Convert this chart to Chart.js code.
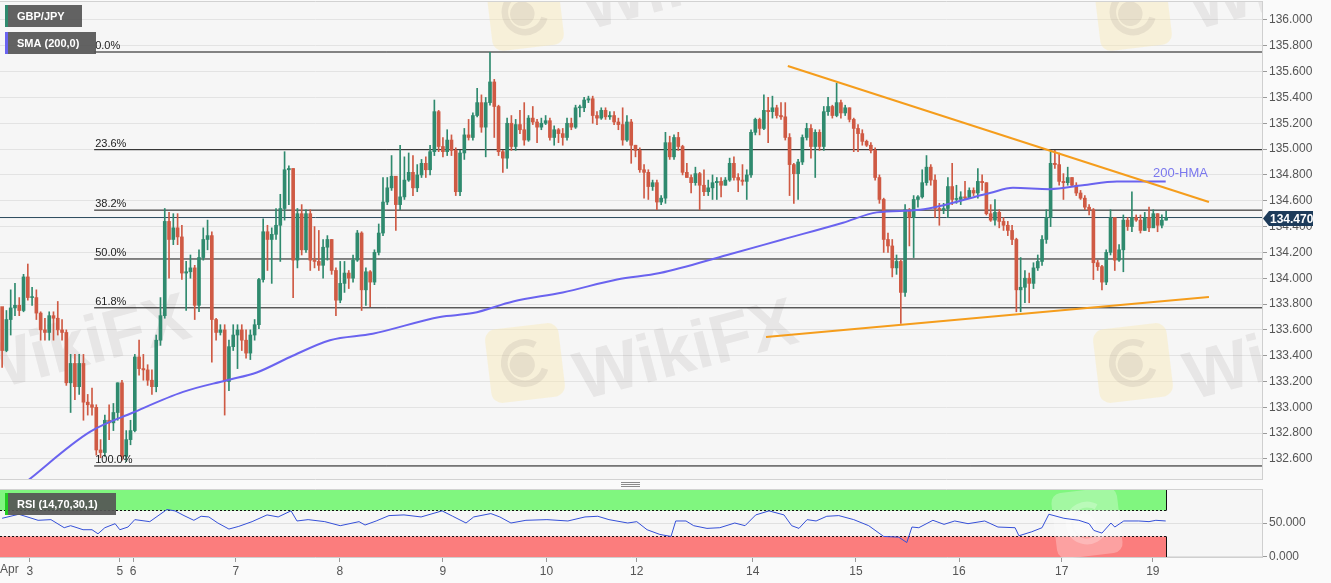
<!DOCTYPE html>
<html>
<head>
<meta charset="utf-8">
<script src="https://cdn.jsdelivr.net/npm/chart.js@4.4.0/dist/chart.umd.min.js"></script>
<style>
  html, body { margin: 0; padding: 0; background: #fafafa; }
  #wrap { position: relative; width: 1331px; height: 583px; overflow: hidden; }
  #priceChart { position: absolute; left: 0; top: 0; }
  #rsiChart { position: absolute; left: 0; top: 481px; }
</style>
</head>
<body>
<div id="wrap">
  <canvas id="priceChart" width="1331" height="481"></canvas>
  <canvas id="rsiChart" width="1331" height="102"></canvas>
</div>
<script>
// hourly GBP/JPY candles, open = previous close
const firstOpen = 133.78;
const closes = [
  133.44,133.68,133.77,133.79,133.75,134.01,133.85,133.85,133.73,133.60,
  133.58,133.71,133.69,133.60,133.58,133.19,133.34,133.16,133.34,133.04,
  133.02,133.00,132.67,132.65,132.90,132.88,132.96,133.19,132.62,132.75,
  132.82,133.39,133.30,133.29,133.21,133.16,133.52,133.71,134.44,134.30,
  134.39,134.32,134.04,134.05,134.08,133.79,134.16,134.30,134.33,133.68,
  133.58,133.60,133.20,133.47,133.56,133.60,133.52,133.42,133.56,133.64,
  133.99,134.36,134.30,134.34,134.41,134.54,134.84,134.85,134.14,134.50,
  134.22,134.50,134.14,134.13,134.10,134.24,134.30,134.06,133.83,133.96,
  134.04,134.00,134.14,134.35,133.91,134.05,133.97,134.20,134.35,134.59,
  134.70,134.79,134.57,134.63,134.76,134.82,134.70,134.80,134.89,134.84,
  134.98,135.29,135.02,134.98,135.07,134.99,134.67,134.97,135.11,135.09,
  135.26,135.36,135.17,135.36,135.52,135.33,134.98,134.93,135.20,135.02,
  135.19,135.15,135.07,135.24,135.21,135.17,135.20,135.22,135.09,135.15,
  135.12,135.09,135.20,135.17,135.32,135.32,135.38,135.39,135.26,135.24,
  135.30,135.25,135.26,135.21,135.19,135.07,135.21,135.03,134.99,134.84,
  134.82,134.71,134.74,134.59,134.62,135.05,134.94,135.09,135.02,134.82,
  134.78,134.74,134.81,134.72,134.67,134.70,
  134.74,134.75,134.72,134.76,134.89,134.78,134.76,134.75,134.80,135.13,135.23,135.16,135.30,135.29,
  135.32,
  135.26,135.25,135.09,134.88,134.81,134.90,135.09,135.16,135.02,135.13,
  135.02,135.29,135.33,135.26,135.36,135.28,135.32,135.23,135.16,135.12,
  135.06,135.03,134.99,134.78,134.61,134.30,134.25,134.08,134.13,133.89,
  134.53,134.47,134.61,134.63,134.74,134.86,134.76,134.54,134.53,134.54,
  134.71,134.61,134.61,134.63,134.62,134.68,134.66,134.75,134.74,134.50,
  134.45,134.51,134.44,134.41,134.37,134.30,133.91,133.93,134.00,133.96,
  134.08,134.13,134.30,134.47,134.89,134.88,134.75,134.74,134.78,134.72,
  134.66,134.62,134.55,134.53,134.12,134.09,133.97,134.20,134.47,134.14,
  134.22,134.45,134.40,134.47,134.45,134.37,134.47,134.39,134.50,134.41,
  134.45,134.47
];
const highs = [
  133.68,133.75,133.91,133.96,133.85,134.03,134.11,133.93,133.91,133.74,
  133.69,133.74,133.74,133.82,133.68,133.60,133.41,133.41,133.41,133.41,
  133.10,133.15,133.02,132.75,132.94,133.02,133.03,133.19,133.21,132.82,
  132.90,133.41,133.52,133.41,133.33,133.29,133.56,133.85,134.54,134.51,
  134.50,134.50,134.41,134.13,134.18,134.10,134.22,134.39,134.45,134.36,
  133.69,133.64,133.64,133.52,133.64,133.64,133.64,133.60,133.60,133.68,
  134.00,134.46,134.41,134.39,134.54,134.65,134.98,134.87,134.85,134.54,
  134.57,134.53,134.53,134.40,134.37,134.30,134.33,134.30,134.08,134.13,
  134.13,134.06,134.18,134.37,134.36,134.08,134.06,134.22,134.42,134.78,
  134.78,134.95,134.79,135.03,134.94,134.97,134.95,134.88,134.92,134.94,
  135.03,135.38,135.30,135.09,135.15,135.11,135.01,134.99,135.16,135.23,
  135.28,135.47,135.42,135.40,135.75,135.54,135.34,134.99,135.24,135.26,
  135.23,135.30,135.36,135.26,135.33,135.23,135.24,135.26,135.24,135.18,
  135.16,135.16,135.24,135.24,135.34,135.34,135.40,135.41,135.41,135.29,
  135.32,135.32,135.29,135.29,135.24,135.32,135.26,135.23,135.03,135.01,
  134.88,134.84,134.76,134.76,134.64,135.13,135.10,135.11,135.13,135.03,
  134.89,134.80,134.86,134.82,134.84,134.76,
  134.80,134.78,134.78,134.78,134.93,134.94,134.81,134.88,134.84,135.15,135.24,135.24,135.42,135.40,
  135.41,
  135.34,135.36,135.36,135.12,134.89,134.92,135.11,135.20,135.19,135.15,
  135.15,135.33,135.40,135.34,135.51,135.38,135.34,135.32,135.24,135.19,
  135.15,135.07,135.05,135.01,134.80,134.62,134.35,134.30,134.18,134.14,
  134.57,134.54,134.64,134.64,134.84,134.95,134.88,134.80,134.58,134.58,
  134.78,134.89,134.72,134.67,134.75,134.70,134.70,134.85,134.80,134.74,
  134.57,134.61,134.53,134.47,134.44,134.41,134.31,134.16,134.06,134.04,
  134.12,134.18,134.33,134.53,134.98,134.99,134.97,134.81,134.86,134.78,
  134.74,134.68,134.64,134.57,134.54,134.14,134.10,134.22,134.53,134.41,
  134.26,134.49,134.47,134.67,134.49,134.49,134.51,134.55,134.53,134.50,
  134.49,134.52
];
const lows = [
  133.31,133.43,133.56,133.71,133.71,133.74,133.83,133.79,133.68,133.52,
  133.52,133.52,133.52,133.56,133.52,133.17,132.96,133.06,133.10,132.90,
  132.94,132.94,132.63,132.61,132.62,132.75,132.82,132.90,132.59,132.58,
  132.71,132.81,133.25,133.21,133.17,133.10,133.12,133.48,133.69,134.00,
  134.26,134.26,133.99,133.75,134.00,133.68,133.74,134.14,134.22,133.35,
  133.52,133.56,132.94,133.13,133.44,133.30,133.44,133.38,133.37,133.52,
  133.61,133.97,134.06,133.96,134.30,134.13,134.45,134.57,133.85,134.08,
  134.18,134.20,134.06,134.08,134.06,134.00,134.14,134.03,133.71,133.81,
  133.89,133.92,133.97,134.13,133.75,133.79,133.78,133.95,134.18,134.33,
  134.57,134.68,134.37,134.53,134.61,134.75,134.64,134.67,134.78,134.78,
  134.80,134.95,134.98,134.94,134.95,134.95,134.64,134.64,134.92,135.07,
  135.07,135.25,135.13,134.94,135.34,135.09,134.95,134.82,134.85,134.99,
  134.99,135.12,135.03,135.06,135.19,135.05,135.15,135.19,135.07,135.03,
  135.05,135.03,135.07,135.15,135.16,135.25,135.29,135.36,135.20,135.19,
  135.23,135.23,135.23,135.19,135.15,135.03,135.06,134.89,134.94,134.82,
  134.62,134.61,134.68,134.53,134.57,134.58,134.92,134.92,134.99,134.80,
  134.78,134.66,134.72,134.53,134.64,134.64,
  134.61,134.61,134.63,134.72,134.75,134.76,134.67,134.72,134.61,134.78,135.11,135.11,135.15,135.05,
  135.24,
  135.24,135.23,135.07,134.64,134.58,134.61,134.88,135.07,134.93,134.78,
  134.99,134.99,135.26,135.24,135.25,135.24,135.26,135.21,134.98,134.98,
  135.03,135.02,134.97,134.76,134.58,134.20,134.20,134.01,134.03,133.65,
  133.86,134.25,134.16,134.55,134.62,134.72,134.72,134.47,134.41,134.50,
  134.47,134.57,134.58,134.57,134.61,134.63,134.64,134.62,134.68,134.49,
  134.44,134.41,134.39,134.37,134.33,134.26,133.74,133.74,133.81,133.81,
  133.92,134.06,134.10,134.27,134.40,134.85,134.72,134.61,134.72,134.71,
  134.64,134.61,134.53,134.49,133.99,134.06,133.91,133.95,134.18,134.06,
  134.13,134.05,134.37,134.36,134.44,134.35,134.37,134.36,134.44,134.36,
  134.39,134.45
];
const lastPrice = 134.470;
const priceTicks = [132.6,132.8,133.0,133.2,133.4,133.6,133.8,134.0,134.2,134.4,134.6,134.8,135.0,135.2,135.4,135.6,135.8,136.0];

// fibonacci retracement between the swing low and swing high
const fibHigh = 135.752;
const fibLow = 132.546;
const fibLevels = [0, 23.6, 38.2, 50, 61.8, 100];
const fibStart = 21.5;

// 200-period moving average
const smaX = [5.5,20.5,30.6,42.3,52.5,59.5,67.3,76.6,86.6,102.3,110.0,119.4,131.0,143.7,153.7,169.4,182.4,196.5,204.4,214.5,230.8,236.2,244.8,252.5,260.5,271.9];
const smaY = [132.42,132.81,132.96,133.12,133.21,133.27,133.39,133.52,133.57,133.70,133.73,133.82,133.89,133.99,134.04,134.18,134.30,134.43,134.51,134.53,134.66,134.70,134.69,134.72,134.75,134.75];

// hand-drawn trend lines
const upperTrendX = [183.6, 282.0];
const upperTrendY = [135.644, 134.590];
const lowerTrendX = [178.5, 282.0];
const lowerTrendY = [133.544, 133.854];

// RSI (14)
const rsiX = [0,3.9,8.4,11.4,14.5,16,17.5,18.9,21,22.4,24,26.4,27.5,29.4,31,34.5,38.5,40.4,42.5,44.8,46.5,48.3,50.4,53,55.3,58.4,61.9,64.5,67.5,68.9,71.5,75.4,79,83.4,84.8,87.4,90.4,93.9,97.9,102.8,105.3,108.4,110.2,114.2,116.3,118.9,122.4,127.3,132.2,136.2,139.2,141.8,146.2,148.3,150.7,153.7,156.3,157.4,159.8,161.6,164.7,167.7,171.2,173.6,176.1,179.2,182.7,184.5,186.2,188.1,190.2,192.7,195.5,199,202.5,206,209.5,211.4,212.6,214.2,217.5,220.1,222.6,225.7,229.6,232.7,236.7,237.6,240.6,243,244.6,248.1,251.6,254,255.1,257,259.1,260,262.1,265.6,268,269.6,271.9];
const rsiV = [57,63,54,55,43,46,43,40,40,34,43,49,40,44,55,52,70,68,61,54,60,59,50,41,45,52,62,59,68,53,55,52,46,52,47,53,61,62,59,68,60,50,59,64,59,50,54,55,53,59,60,55,50,52,40,33,30,53,53,46,42,43,50,46,62,68,62,46,42,55,53,60,61,55,46,30,29,21,44,43,54,48,53,49,53,44,43,31,37,43,63,57,54,49,39,35,50,44,53,53,52,54,53];
const rsiTicks = [0, 50];
const rsiUpper = 70;
const rsiLower = 30;

const dayTickPos = [6.5, 27.5, 30.6, 54.6, 78.9, 103, 127.2, 148.3, 175.4, 199.5, 223.6, 247.6, 268.9];
const dayLabels = ['3', '5', '6', '7', '8', '9', '10', '12', '14', '15', '16', '17', '19'];

const X_MIN = -0.5;
const X_MAX = 294.4;

const UP = '#2f8a6e';
const DOWN = '#cf5a44';
const FONT = '"Liberation Sans", Arial, sans-serif';

Chart.defaults.font.family = FONT;

const opens = closes.map((c, i) => i === 0 ? firstOpen : closes[i - 1]);
const candleColors = closes.map((c, i) => c >= opens[i] ? UP : DOWN);
const lastIndex = closes.length - 1;

// keep axis label overhang from shrinking the plot
const noPad = s => {
    s.paddingTop = 0;
    s.paddingBottom = 0;
    s.paddingLeft = 0;
    s.paddingRight = 0;
};

function logo(ctx, cx, cy, s, fill, ink) {
    ctx.save();
    ctx.translate(cx, cy);
    ctx.rotate(-0.12);
    ctx.fillStyle = fill;
    ctx.beginPath();
    ctx.roundRect(-s / 2, -s / 2, s, s, s * 0.15);
    ctx.fill();
    ctx.strokeStyle = ink;
    ctx.lineWidth = s * 0.09;
    ctx.beginPath();
    ctx.arc(0, 0, s * 0.28, 0.4, Math.PI * 1.7);
    ctx.stroke();
    ctx.fillStyle = ink;
    ctx.beginPath();
    ctx.arc(-s * 0.04, s * 0.02, s * 0.17, 0, Math.PI * 2);
    ctx.fill();
    ctx.restore();
}

function markText(ctx, x, y, size) {
    ctx.save();
    ctx.translate(x, y);
    ctx.rotate(-0.26);
    ctx.font = 'bold ' + size + 'px ' + FONT;
    ctx.fillStyle = 'rgba(110, 100, 100, 0.11)';
    ctx.textBaseline = 'alphabetic';
    ctx.fillText('WikiFX', 0, 0);
    ctx.restore();
}

function tagBox(ctx, x, y, w, h, accent, text) {
    ctx.fillStyle = 'rgba(85, 85, 85, 0.92)';
    ctx.fillRect(x, y, w, h);
    ctx.fillStyle = accent;
    ctx.fillRect(x, y, 3, h);
    ctx.fillStyle = '#ffffff';
    ctx.font = 'bold 11px ' + FONT;
    ctx.textBaseline = 'middle';
    ctx.textAlign = 'left';
    ctx.fillText(text, x + 12, y + h / 2 + 1);
}

const mainDecor = {
    id: 'mainDecor',
    beforeDraw(chart) {
        const {ctx, chartArea: a} = chart;
        ctx.save();
        ctx.fillStyle = '#fafafa';
        ctx.fillRect(0, 0, chart.width, chart.height);
        ctx.fillStyle = '#f6f6f6';
        ctx.fillRect(a.left, a.top, a.right - a.left, a.bottom - a.top);
        ctx.restore();
    },
    beforeDatasetsDraw(chart) {
        const {ctx, chartArea: a} = chart;
        ctx.save();
        ctx.beginPath();
        ctx.rect(a.left, a.top, a.right - a.left, a.bottom - a.top);
        ctx.clip();
        const pale = 'rgba(250, 232, 175, 0.4)';
        const ink = 'rgba(120, 110, 110, 0.13)';
        logo(ctx, 525, 12, 72, pale, ink);
        logo(ctx, 525, 363, 74, pale, ink);
        logo(ctx, 1133, 12, 72, pale, ink);
        logo(ctx, 1133, 363, 74, pale, ink);
        markText(ctx, 588, 30, 68);
        markText(ctx, 1195, 30, 68);
        markText(ctx, -25, 395, 68);
        markText(ctx, 582, 400, 68);
        markText(ctx, 1192, 400, 68);
        ctx.restore();
    },
    afterDatasetsDraw(chart) {
        const {ctx, scales: {x, y}} = chart;
        ctx.save();
        ctx.font = '11px ' + FONT;
        ctx.fillStyle = '#222';
        ctx.textAlign = 'left';
        ctx.textBaseline = 'alphabetic';
        const fx = x.getPixelForValue(fibStart);
        fibLevels.forEach(l => {
            const py = y.getPixelForValue(fibHigh - (fibHigh - fibLow) * l / 100);
            ctx.fillText(l.toFixed(1) + '%', fx + 1, py - 3);
        });
        ctx.font = '13px ' + FONT;
        ctx.fillStyle = '#7b78ee';
        ctx.fillText('200-HMA', 1153, 177);
        tagBox(ctx, 5, 5, 77, 22, UP, 'GBP/JPY');
        tagBox(ctx, 5, 32, 91, 22, '#6a63ef', 'SMA (200,0)');
        ctx.restore();
    },
    afterDraw(chart) {
        const {ctx, chartArea: a, scales: {y}} = chart;
        ctx.save();
        ctx.strokeStyle = '#d2d2d2';
        ctx.lineWidth = 1;
        ctx.beginPath();
        ctx.moveTo(a.left, a.top + 0.5);
        ctx.lineTo(a.right, a.top + 0.5);
        ctx.moveTo(a.left, a.bottom + 0.5);
        ctx.lineTo(a.right, a.bottom + 0.5);
        ctx.stroke();
        const py = Math.round(y.getPixelForValue(lastPrice)) + 0.5;
        ctx.fillStyle = '#1d3b5a';
        ctx.beginPath();
        ctx.moveTo(a.right + 1, py);
        ctx.lineTo(a.right + 7, py - 7.5);
        ctx.lineTo(a.right + 51, py - 7.5);
        ctx.lineTo(a.right + 51, py + 7.5);
        ctx.lineTo(a.right + 7, py + 7.5);
        ctx.closePath();
        ctx.fill();
        ctx.fillStyle = '#ffffff';
        ctx.font = 'bold 12px ' + FONT;
        ctx.textBaseline = 'middle';
        ctx.textAlign = 'left';
        ctx.fillText(lastPrice.toFixed(3), a.right + 8, py + 1);
        ctx.restore();
    }
};

const lineSet = (xs, ys, color, width, order) => ({
    type: 'line',
    data: xs.map((v, i) => ({x: v, y: ys[i]})),
    borderColor: color,
    borderWidth: width,
    pointRadius: 0,
    fill: false,
    order: order
});

const fibSets = fibLevels.map(l => {
    const p = fibHigh - (fibHigh - fibLow) * l / 100;
    return lineSet([fibStart, X_MAX], [p, p], '#111111', 1, 6);
});

new Chart(document.getElementById('priceChart'), {
    type: 'line',
    data: {
        datasets: [
            lineSet(upperTrendX, upperTrendY, '#f59d1c', 2, 0),
            lineSet(lowerTrendX, lowerTrendY, '#f59d1c', 2, 0),
            Object.assign(lineSet(smaX, smaY, '#6a63ef', 2, 1), {cubicInterpolationMode: 'monotone'}),
            {
                type: 'bar',
                data: closes.map((c, i) => ({x: i, y: [opens[i], c]})),
                backgroundColor: candleColors,
                barThickness: 3,
                minBarLength: 1,
                grouped: false,
                order: 2
            },
            {
                type: 'bar',
                data: closes.map((c, i) => ({x: i, y: [lows[i], highs[i]]})),
                backgroundColor: candleColors,
                barThickness: 1,
                grouped: false,
                order: 3
            },
            lineSet([X_MIN, X_MAX], [lastPrice, lastPrice], '#2b4a5c', 1, 4),
            ...fibSets
        ]
    },
    options: {
        responsive: false,
        animation: false,
        events: [],
        layout: {padding: {top: 1, bottom: 2, left: 0, right: 0}},
        plugins: {legend: {display: false}, tooltip: {enabled: false}},
        scales: {
            x: {type: 'linear', min: X_MIN, max: X_MAX, offset: false, display: false},
            y: {
                position: 'right',
                min: 132.445,
                max: 136.147,
                afterFit: s => { s.width = 69; noPad(s); },
                afterBuildTicks: s => { s.ticks = priceTicks.map(v => ({value: v})); },
                ticks: {color: '#555', font: {size: 12}, padding: 2, callback: v => Number(v).toFixed(3)},
                grid: {color: '#e3e3e3', tickColor: '#9a9a9a', tickLength: 5},
                border: {color: '#cfcfcf'}
            }
        }
    },
    plugins: [mainDecor]
});

const zoneEnd = lastIndex;

const rsiDecor = {
    id: 'rsiDecor',
    beforeDraw(chart) {
        const {ctx, chartArea: a} = chart;
        ctx.save();
        ctx.fillStyle = '#fafafa';
        ctx.fillRect(0, 0, chart.width, chart.height);
        ctx.fillStyle = '#f6f6f6';
        ctx.fillRect(a.left, a.top, a.right - a.left, a.bottom - a.top);
        ctx.strokeStyle = '#8a8a8a';
        ctx.lineWidth = 1;
        [1.5, 3.5, 5.5].forEach(dy => {
            ctx.beginPath();
            ctx.moveTo(621, dy);
            ctx.lineTo(640, dy);
            ctx.stroke();
        });
        ctx.restore();
    },
    beforeDatasetsDraw(chart) {
        const {ctx, chartArea: a, scales: {x, y}} = chart;
        const xr = Math.round(x.getPixelForValue(zoneEnd)) + 0.5;
        const yUp = Math.round(y.getPixelForValue(rsiUpper)) + 0.5;
        const yLo = Math.round(y.getPixelForValue(rsiLower)) + 0.5;
        ctx.save();
        ctx.fillStyle = '#80f67f';
        ctx.fillRect(a.left, a.top + 1, xr - a.left, yUp - a.top - 1);
        ctx.fillStyle = '#fb7d7d';
        ctx.fillRect(a.left, yLo, xr - a.left, a.bottom - yLo);
        ctx.strokeStyle = '#111';
        ctx.lineWidth = 1;
        ctx.setLineDash([2, 2]);
        ctx.beginPath();
        ctx.moveTo(a.left, yUp);
        ctx.lineTo(xr, yUp);
        ctx.moveTo(a.left, yLo);
        ctx.lineTo(xr, yLo);
        ctx.stroke();
        ctx.setLineDash([]);
        ctx.beginPath();
        ctx.moveTo(xr, a.top + 1);
        ctx.lineTo(xr, yUp);
        ctx.moveTo(xr, yLo);
        ctx.lineTo(xr, a.bottom);
        ctx.stroke();
        logo(ctx, 1087, (a.top + a.bottom) / 2, 66, 'rgba(255, 255, 255, 0.28)', 'rgba(255, 255, 255, 0.25)');
        ctx.restore();
    },
    afterDraw(chart) {
        const {ctx, chartArea: a} = chart;
        ctx.save();
        ctx.strokeStyle = '#d2d2d2';
        ctx.lineWidth = 1;
        ctx.beginPath();
        ctx.moveTo(a.left, a.top + 0.5);
        ctx.lineTo(a.right, a.top + 0.5);
        ctx.stroke();
        tagBox(ctx, 5, 12, 111, 22, '#22cc22', 'RSI (14,70,30,1)');
        ctx.fillStyle = '#555';
        ctx.font = '12px ' + FONT;
        ctx.textAlign = 'left';
        ctx.textBaseline = 'top';
        ctx.fillText('Apr', 0, a.bottom + 7);
        ctx.restore();
    }
};

new Chart(document.getElementById('rsiChart'), {
    type: 'line',
    data: {
        datasets: [{
            data: rsiX.map((v, i) => ({x: v, y: rsiV[i]})),
            borderColor: '#3550d8',
            borderWidth: 1,
            pointRadius: 0,
            fill: false
        }]
    },
    options: {
        responsive: false,
        animation: false,
        events: [],
        layout: {padding: {top: 8, bottom: 0, left: 0, right: 0}},
        plugins: {legend: {display: false}, tooltip: {enabled: false}},
        scales: {
            x: {
                type: 'linear',
                min: X_MIN,
                max: X_MAX,
                offset: false,
                afterFit: s => { s.height = 26; noPad(s); },
                afterBuildTicks: s => { s.ticks = dayTickPos.map(v => ({value: v})); },
                ticks: {autoSkip: false, maxRotation: 0, color: '#555', font: {size: 12}, padding: 2,
                    callback: (v, i) => dayLabels[i]},
                grid: {drawOnChartArea: false, tickLength: 5, color: '#9a9a9a'},
                border: {color: '#cfcfcf'}
            },
            y: {
                position: 'right',
                min: -0.5,
                max: 100.5,
                afterFit: s => { s.width = 69; noPad(s); },
                afterBuildTicks: s => { s.ticks = rsiTicks.map(v => ({value: v})); },
                ticks: {color: '#555', font: {size: 12}, padding: 2, callback: v => Number(v).toFixed(3)},
                grid: {color: '#e0e0e0', tickColor: '#9a9a9a', tickLength: 5},
                border: {color: '#cfcfcf'}
            }
        }
    },
    plugins: [rsiDecor]
});
</script>
</body>
</html>
